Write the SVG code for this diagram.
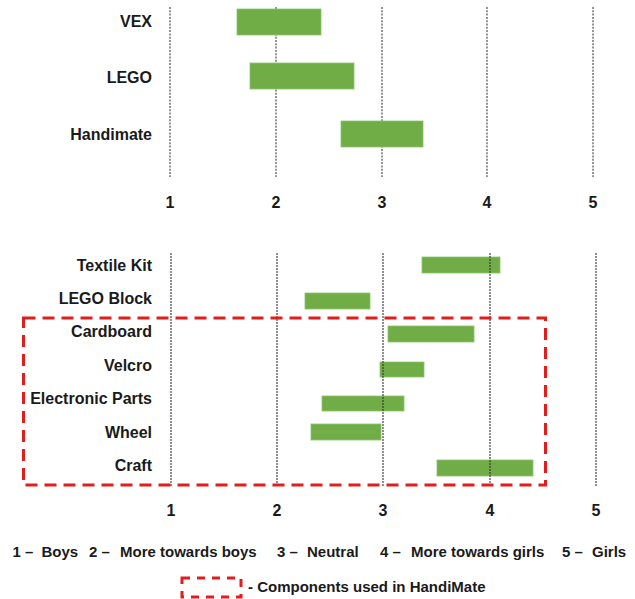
<svg xmlns="http://www.w3.org/2000/svg" width="635" height="599" viewBox="0 0 635 599">
<style>
.lbl{font-family:"Liberation Sans",Arial,sans-serif;font-weight:bold;font-size:16px;fill:#1a1a1a;text-anchor:end}
.ax{font-family:"Liberation Sans",Arial,sans-serif;font-weight:bold;font-size:16px;fill:#1a1a1a;text-anchor:middle}
.lg{font-family:"Liberation Sans",Arial,sans-serif;font-weight:bold;font-size:15px;fill:#1a1a1a}
.bar{fill:#70AD47;stroke:#8cc46b;stroke-width:0.8}
.g1{stroke:#7a7a7a;stroke-width:1.6;stroke-dasharray:2 1.3;fill:none}
.g2{stroke:#333;stroke-width:1.1;stroke-dasharray:2 1;fill:none}
.red{fill:none;stroke:#e31c1c;stroke-width:3}
</style>
<rect width="635" height="599" fill="#fff"/>
<g id="top-chart">
  <g id="top-grid">
    <line class="g1" x1="170" y1="7" x2="170" y2="177"/>
    <line class="g1" x1="276" y1="7" x2="276" y2="177"/>
    <line class="g1" x1="382" y1="7" x2="382" y2="177"/>
    <line class="g1" x1="487" y1="7" x2="487" y2="177"/>
    <line class="g1" x1="593" y1="7" x2="593" y2="177"/>
  </g>
  <g id="vex"><rect class="bar" x="237" y="9" width="84" height="26"/><text class="lbl" x="152" y="27">VEX</text></g>
  <g id="lego"><rect class="bar" x="250" y="63" width="104" height="26"/><text class="lbl" x="152" y="83">LEGO</text></g>
  <g id="handimate"><rect class="bar" x="341" y="121" width="82" height="26"/><text class="lbl" x="152" y="140">Handimate</text></g>
  <g id="top-axis">
    <text class="ax" x="170" y="208">1</text>
    <text class="ax" x="276" y="208">2</text>
    <text class="ax" x="382" y="208">3</text>
    <text class="ax" x="487" y="208">4</text>
    <text class="ax" x="593" y="208">5</text>
  </g>
</g>
<g id="bottom-chart">
  <g id="bars">
    <g id="textile-kit"><rect class="bar" x="422" y="257" width="78" height="16"/><text class="lbl" x="152" y="271">Textile Kit</text></g>
    <g id="lego-block"><rect class="bar" x="305" y="293" width="65" height="16"/><text class="lbl" x="152" y="304">LEGO Block</text></g>
    <g id="cardboard"><rect class="bar" x="388" y="326" width="86" height="16"/><text class="lbl" x="152" y="337">Cardboard</text></g>
    <g id="velcro"><rect class="bar" x="380" y="362" width="44" height="15"/><text class="lbl" x="152" y="371">Velcro</text></g>
    <g id="electronic-parts"><rect class="bar" x="322" y="396" width="82" height="15"/><text class="lbl" x="152" y="404">Electronic Parts</text></g>
    <g id="wheel"><rect class="bar" x="311" y="424" width="70" height="16"/><text class="lbl" x="152" y="438">Wheel</text></g>
    <g id="craft"><rect class="bar" x="437" y="460" width="96" height="16"/><text class="lbl" x="152" y="471">Craft</text></g>
  </g>
  <g id="bottom-grid">
    <line class="g2" x1="171" y1="253" x2="171" y2="487"/>
    <line class="g2" x1="277" y1="253" x2="277" y2="487"/>
    <line class="g2" x1="383" y1="253" x2="383" y2="487"/>
    <line class="g2" x1="490" y1="253" x2="490" y2="487"/>
    <line class="g2" x1="596" y1="253" x2="596" y2="487"/>
  </g>
  <g id="handimate-box"><rect class="red" x="23.5" y="318" width="522" height="167" stroke-dasharray="12 7"/></g>
  <g id="bottom-axis">
    <text class="ax" x="171" y="516">1</text>
    <text class="ax" x="277" y="516">2</text>
    <text class="ax" x="383" y="516">3</text>
    <text class="ax" x="490" y="516">4</text>
    <text class="ax" x="596" y="516">5</text>
  </g>
</g>
<g id="legend">
  <text class="lg" y="557"><tspan x="12.5">1 –</tspan><tspan x="41.5">Boys</tspan><tspan x="89">2 –</tspan><tspan x="120">More towards boys</tspan><tspan x="277">3 –</tspan><tspan x="307">Neutral</tspan><tspan x="380">4 –</tspan><tspan x="411">More towards girls</tspan><tspan x="562">5 –</tspan><tspan x="592">Girls</tspan></text>
  <rect class="red" x="182" y="578" width="59" height="19" stroke-width="2.5" stroke-dasharray="8 7"/>
  <text class="lg" x="248" y="592">- Components used in HandiMate</text>
</g>
</svg>
